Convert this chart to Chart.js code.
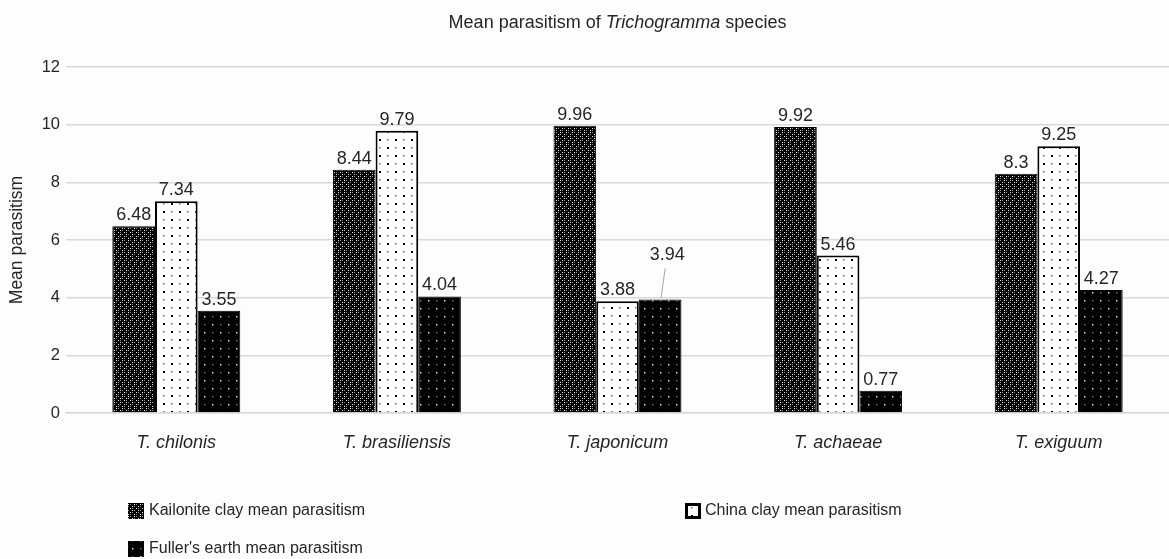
<!DOCTYPE html>
<html>
<head>
<meta charset="utf-8">
<script src="https://cdn.jsdelivr.net/npm/chart.js@4.4.1/dist/chart.umd.min.js"></script>
<style>
  html, body { margin: 0; padding: 0; background: #fbfdfe; }
  #wrap { width: 1169px; height: 559px; position: relative; }
</style>
</head>
<body>
<div id="wrap"><canvas id="chart" width="1169" height="559"></canvas></div>
<script>
const species = ["T. chilonis", "T. brasiliensis", "T. japonicum", "T. achaeae", "T. exiguum"];
const kaolinite = [6.48, 8.44, 9.96, 9.92, 8.3];
const chinaClay = [7.34, 9.79, 3.88, 5.46, 9.25];
const fullers = [3.55, 4.04, 3.94, 0.77, 4.27];
const seriesNames = [
    "Kailonite clay mean parasitism",
    "China clay mean parasitism",
    "Fuller's earth mean parasitism"
];
const yTicks = [0, 2, 4, 6, 8, 10, 12];

const FONT = "'Liberation Sans', Arial, sans-serif";
const TEXT = "#262626";

// small tiles used as bar fills
function tile(w, h, bg, draw) {
    const c = document.createElement("canvas");
    c.width = w;
    c.height = h;
    const g = c.getContext("2d");
    g.fillStyle = bg;
    g.fillRect(0, 0, w, h);
    draw(g);
    return g.createPattern(c, "repeat");
}

const kaolinFill = tile(12, 12, "#000", (g) => {
    for (let y = 0; y < 12; y += 2) {
        for (let x = 0; x < 12; x += 2) {
            const k = (x / 2 + y / 2 + Math.floor(y / 6)) % 3;
            if (k === 0) continue;
            g.fillStyle = k === 1 ? "#e6e6e6" : "#8a8a8a";
            g.fillRect(x, y, 1, 1);
        }
    }
});

const chinaFill = tile(16, 16, "#fff", (g) => {
    g.fillStyle = "#000";
    g.fillRect(3, 3, 2, 2);
    g.fillRect(11, 11, 2, 2);
    g.fillStyle = "#666";
    g.fillRect(11, 3, 1.5, 1.5);
    g.fillRect(3, 11, 1.5, 1.5);
});

const fullerFill = tile(16, 16, "#000", (g) => {
    g.fillStyle = "#d8d8d8";
    g.fillRect(4, 4, 1.5, 1.5);
    g.fillRect(12, 12, 1.5, 1.5);
    g.fillStyle = "#707070";
    g.fillRect(12, 4, 1.5, 1.5);
    g.fillRect(4, 12, 1.5, 1.5);
});

// value labels above each bar; one label is lifted with a leader line
const labelPlugin = {
    id: "valueLabels",
    afterDatasetsDraw(chart) {
        const ctx = chart.ctx;
        ctx.save();
        ctx.font = "18px " + FONT;
        ctx.fillStyle = TEXT;
        ctx.textAlign = "center";
        ctx.textBaseline = "bottom";
        chart.data.datasets.forEach((ds, di) => {
            chart.getDatasetMeta(di).data.forEach((bar, i) => {
                let dx = 0, dy = 0;
                const lifted = di === 2 && i === 2;
                if (lifted) { dx = 7; dy = -33; }
                ctx.fillText(String(ds.data[i]), bar.x + dx, bar.y - 2 + dy);
                if (lifted) {
                    ctx.strokeStyle = "#a6a6a6";
                    ctx.lineWidth = 1;
                    ctx.beginPath();
                    ctx.moveTo(bar.x + 5, bar.y - 31);
                    ctx.lineTo(bar.x + 1, bar.y - 2);
                    ctx.stroke();
                }
            });
        });
        ctx.restore();
    }
};

// title with italic genus name and a two-column legend
const titleLegendPlugin = {
    id: "titleLegend",
    afterDraw(chart) {
        const ctx = chart.ctx;
        const area = chart.chartArea;
        ctx.save();
        ctx.fillStyle = TEXT;
        ctx.textBaseline = "middle";
        const parts = [
            ["Mean parasitism of ", "18px " + FONT],
            ["Trichogramma", "italic 18px " + FONT],
            [" species", "18px " + FONT]
        ];
        let total = 0;
        parts.forEach((p) => { ctx.font = p[1]; total += ctx.measureText(p[0]).width; });
        let x = (area.left + area.right) / 2 - total / 2;
        ctx.textAlign = "left";
        parts.forEach((p) => {
            ctx.font = p[1];
            ctx.fillText(p[0], x, 23);
            x += ctx.measureText(p[0]).width;
        });

        const items = [
            { x: 128, y: 511 },
            { x: 685, y: 511 },
            { x: 128, y: 549 }
        ];
        ctx.font = "16px " + FONT;
        chart.data.datasets.forEach((ds, i) => {
            const it = items[i];
            const s = 16;
            ctx.fillStyle = ds.backgroundColor;
            ctx.fillRect(it.x, it.y - s / 2, s, s);
            if (i === 1) {
                ctx.strokeStyle = "#000";
                ctx.lineWidth = 3;
                ctx.strokeRect(it.x + 1.5, it.y - s / 2 + 1.5, s - 3, s - 3);
            }
            ctx.fillStyle = TEXT;
            ctx.fillText(ds.label, it.x + s + (i === 1 ? 4 : 5), it.y);
        });
        ctx.restore();
    }
};

new Chart(document.getElementById("chart"), {
    type: "bar",
    data: {
        labels: species,
        datasets: [
            {
                label: seriesNames[0],
                data: kaolinite,
                backgroundColor: kaolinFill,
                borderColor: "#000",
                borderWidth: 1
            },
            {
                label: seriesNames[1],
                data: chinaClay,
                backgroundColor: chinaFill,
                borderColor: "#000",
                borderWidth: 2
            },
            {
                label: seriesNames[2],
                data: fullers,
                backgroundColor: fullerFill,
                borderColor: "#000",
                borderWidth: 1
            }
        ]
    },
    options: {
        responsive: false,
        animation: false,
        devicePixelRatio: 1,
        layout: { padding: { top: 67, right: 0, bottom: 0, left: 0 } },
        categoryPercentage: 0.58,
        barPercentage: 1.0,
        plugins: {
            legend: { display: false },
            title: { display: false },
            tooltip: { enabled: false }
        },
        scales: {
            x: {
                afterFit: (s) => { s.height = 146; },
                grid: { display: false, drawTicks: false },
                border: { color: "#d9d9d9", width: 1.5 },
                ticks: {
                    padding: 19,
                    color: TEXT,
                    font: { family: FONT, size: 18, style: "italic" }
                }
            },
            y: {
                min: 0,
                max: 12,
                afterFit: (s) => { s.width = 66; },
                afterBuildTicks: (s) => { s.ticks = yTicks.map((v) => ({ value: v })); },
                grid: { color: "#d9d9d9", lineWidth: 1.5, drawTicks: false },
                border: { display: false },
                ticks: {
                    padding: 6,
                    color: TEXT,
                    font: { family: FONT, size: 16.5 }
                },
                title: {
                    display: true,
                    text: "Mean parasitism",
                    color: TEXT,
                    font: { family: FONT, size: 17.5 },
                    padding: { top: 7, bottom: 0 }
                }
            }
        }
    },
    plugins: [labelPlugin, titleLegendPlugin]
});
</script>
</body>
</html>
